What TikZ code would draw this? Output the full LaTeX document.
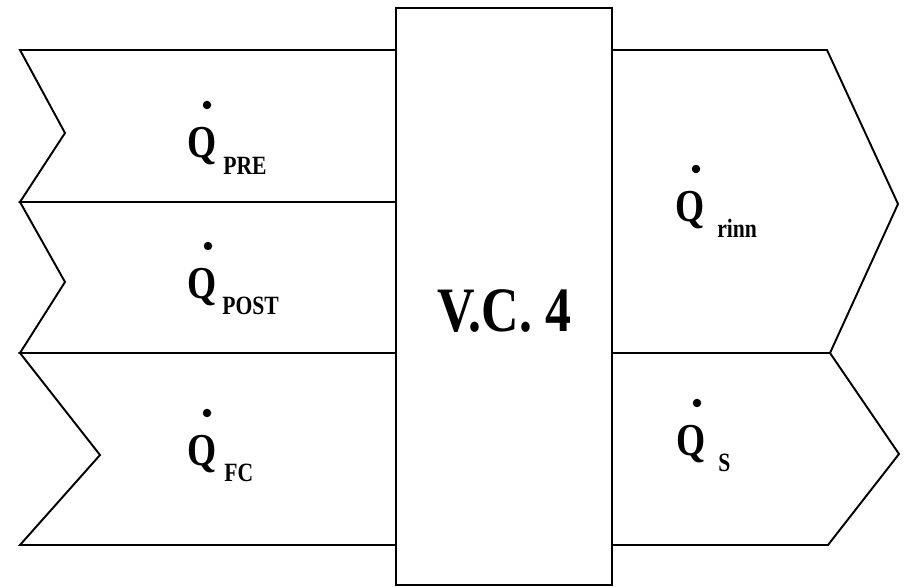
\documentclass[tikz,border=0pt]{standalone}
\usepackage{fontspec}
\setmainfont{Liberation Serif}[FakeStretch=0.82]
\usetikzlibrary{positioning}

\begin{document}
\begin{tikzpicture}[
  band/.style={draw=black, line width=1.1pt, line join=miter},
  qsym/.style={anchor=base west, inner sep=0pt, font=\fontsize{26}{28}\selectfont\bfseries},
  qsub/.style={anchor=base west, inner sep=0pt, font=\fontsize{15}{17}\selectfont\bfseries},
  qdot/.style={fill=black},
  title/.style={anchor=base, inner sep=0pt, font=\fontsize{36}{40}\selectfont\bfseries}
]
\useasboundingbox (0,0) rectangle (18.10,11.72);

% incoming flows (left)
\draw[band] (0.40,10.72) -- (7.92,10.72) -- (7.92,7.68) -- (0.40,7.68) -- (1.30,9.06) -- cycle;
\draw[band] (0.40,7.68) -- (7.92,7.68) -- (7.92,4.66) -- (0.40,4.66) -- (1.30,6.08) -- cycle;
\draw[band] (0.40,4.66) -- (7.92,4.66) -- (7.92,0.82) -- (0.40,0.82) -- (2.00,2.62) -- cycle;

% outgoing flows (right)
\draw[band] (12.24,10.72) -- (16.54,10.72) -- (17.96,7.64) -- (16.60,4.66) -- (12.24,4.66) -- cycle;
\draw[band] (12.24,4.66) -- (16.60,4.66) -- (17.98,2.64) -- (16.56,0.82) -- (12.24,0.82) -- cycle;

% control volume
\draw[band, fill=white] (7.92,0.02) rectangle (12.24,11.56);
\node[title] (vc) at (10.09,5.08) {V.C. 4};

% labels
\node[qsym] (qpre) at (3.74,8.56) {Q};
\node[qsub] (qpresub) at (4.46,8.22) {PRE};
\fill[qdot] (4.14,9.62) circle (0.085);

\node[qsym] (qpost) at (3.74,5.74) {Q};
\node[qsub] (qpostsub) at (4.44,5.42) {POST};
\fill[qdot] (4.16,6.80) circle (0.085);

\node[qsym] (qfc) at (3.74,2.40) {Q};
\node[qsub] (qfcsub) at (4.48,2.08) {FC};
\fill[qdot] (4.14,3.46) circle (0.085);

\node[qsym] (qrinn) at (13.50,7.28) {Q};
\node[qsub] (qrinnsub) at (14.34,6.96) {rinn};
\fill[qdot] (13.92,8.34) circle (0.085);

\node[qsym] (qs) at (13.52,2.60) {Q};
\node[qsub] (qssub) at (14.36,2.28) {S};
\fill[qdot] (13.94,3.66) circle (0.085);

\end{tikzpicture}
\end{document}
